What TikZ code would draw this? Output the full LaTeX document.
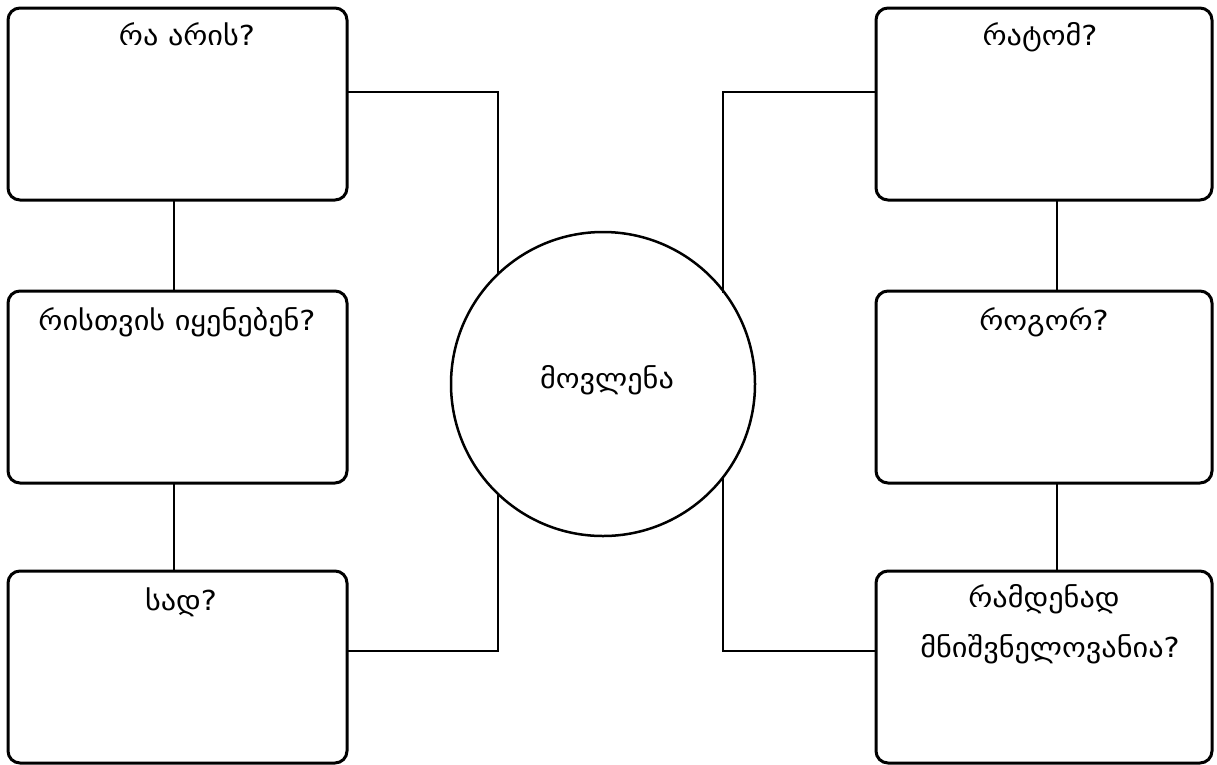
\documentclass[tikz,border=0pt]{standalone}
\usepackage{fontspec}
\newfontfamily\geofont[FakeStretch=1.1]{DejaVu Sans}
\begin{document}
\begin{tikzpicture}[x=1pt,y=-1pt,
  box/.style={draw, line width=3pt, rounded corners=12pt, minimum width=339pt, minimum height=192pt, inner sep=0pt, outer sep=0pt},
  rbox/.style={box, minimum width=336pt},
  conn/.style={line width=2.5pt},
  lbl/.style={font=\geofont\fontsize{27.5}{30}\selectfont, anchor=base, inner sep=0pt}]
\useasboundingbox (0,0) rectangle (1217,764);
% boxes
\node[box] (b1) at (177.5,104) {};
\node[box] (b2) at (177.5,387) {};
\node[box] (b3) at (177.5,667) {};
\node[rbox] (r1) at (1044,104) {};
\node[rbox] (r2) at (1044,387) {};
\node[rbox] (r3) at (1044,667) {};
% circle
\node[draw, circle, line width=2.5pt, minimum size=304pt, inner sep=0pt, outer sep=0pt] (c) at (603,384) {};
% labels
\node[lbl] (t1) at (187,45) {რა არის?};
\node[lbl] (t2) at (177,330) {რისთვის იყენებენ?};
\node[lbl] (t3) at (181,610) {სად?};
\node[lbl] (u1) at (1040,45) {რატომ?};
\node[lbl] (u2) at (1044,330) {როგორ?};
\node[lbl] (u3a) at (1044,607) {რამდენად};
\node[lbl] (u3b) at (1050,657) {მნიშვნელოვანია?};
\node[lbl] (cm) at (607,388) {მოვლენა};
% junctions
\coordinate (jl1) at (498,92);
\coordinate (jl3) at (498,651);
\coordinate (jr1) at (723,92);
\coordinate (jr3) at (723,651);
\coordinate (xl) at (174,0);
\coordinate (xr) at (1057,0);
% connectors
\draw[conn] (b1.east |- jl1) -- (jl1) -- (jl1 |- c.133.7);
\draw[conn] (b3.east |- jl3) -- (jl3) -- (jl3 |- c.226.3);
\draw[conn] (r1.west |- jr1) -- (jr1) -- (jr1 |- c.37.9);
\draw[conn] (r3.west |- jr3) -- (jr3) -- (jr3 |- c.322.1);
\draw[conn] (xl |- b1.south) -- (xl |- b2.north);
\draw[conn] (xl |- b2.south) -- (xl |- b3.north);
\draw[conn] (xr |- r1.south) -- (xr |- r2.north);
\draw[conn] (xr |- r2.south) -- (xr |- r3.north);
\end{tikzpicture}
\end{document}
